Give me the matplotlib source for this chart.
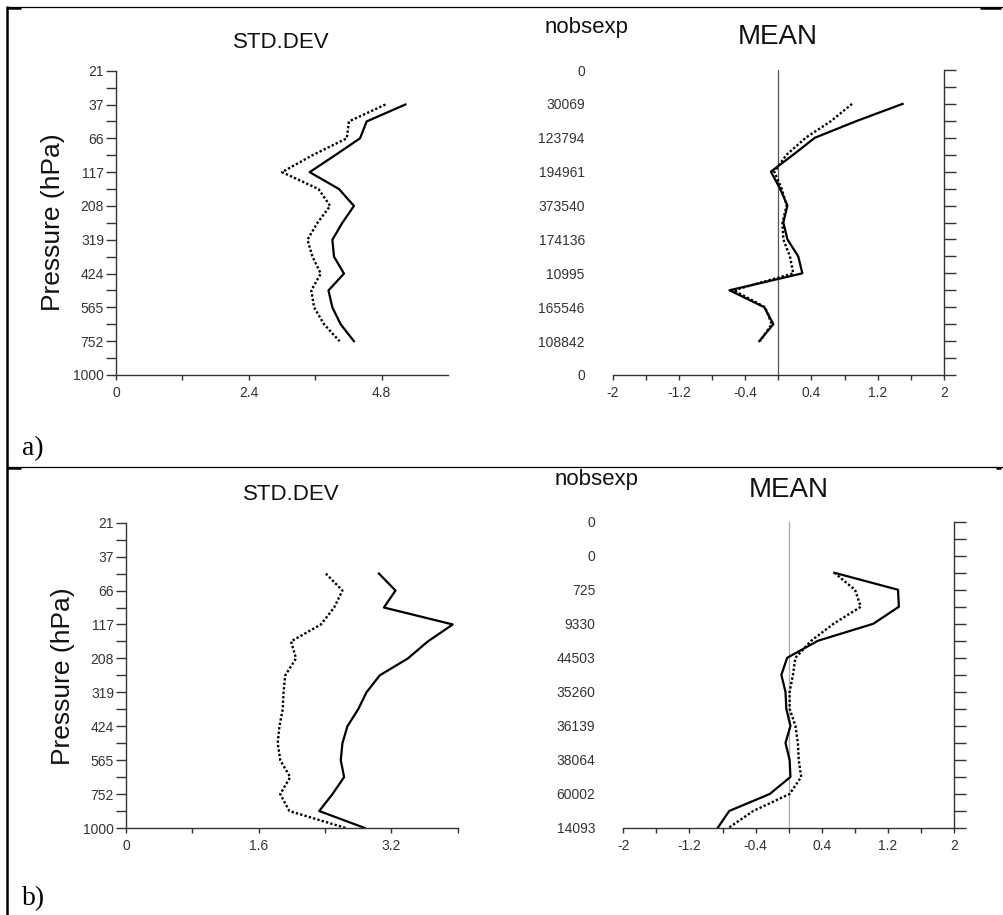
import numpy as np
import matplotlib.pyplot as plt
from matplotlib.lines import Line2D
from matplotlib.ticker import FixedLocator

plt.rcParams['font.family'] = ['Liberation Sans', 'DejaVu Sans']

### DATA
nan = np.nan

# labels of every other model level (index 0 = top, 18 = bottom)
pressure_labels = ["21", "37", "66", "117", "208", "319", "424", "565", "752", "1000"]
nobs_a = ["0", "30069", "123794", "194961", "373540", "174136", "10995", "165546", "108842", "0"]
nobs_b = ["0", "0", "725", "9330", "44503", "35260", "36139", "38064", "60002", "14093"]

# values on the 19 levels, nan where nothing is drawn
std_a_solid = [nan, nan, 5.23, 4.53, 4.41, 3.96, 3.50, 4.03, 4.30, 4.09, 3.91, 3.94, 4.12, 3.84, 3.91, 4.06, 4.30, nan, nan]
std_a_dot = [nan, nan, 4.87, 4.21, 4.17, 3.55, 3.00, 3.66, 3.87, 3.64, 3.46, 3.55, 3.70, 3.53, 3.58, 3.76, 4.04, nan, nan]
mean_a_solid = [nan, nan, 1.50, 0.95, 0.44, 0.18, -0.09, 0.02, 0.11, 0.06, 0.11, 0.24, 0.29, -0.59, -0.17, -0.06, -0.23, nan, nan]
mean_a_dot = [nan, nan, 0.89, 0.64, 0.33, 0.10, -0.05, 0.04, 0.10, 0.05, 0.06, 0.14, 0.18, -0.54, -0.16, -0.08, -0.22, nan, nan]

std_b_solid = [nan, nan, nan, 3.05, 3.25, 3.11, 3.94, 3.64, 3.40, 3.06, 2.90, 2.80, 2.67, 2.61, 2.59, 2.63, 2.49, 2.33, 2.88]
std_b_dot = [nan, nan, nan, 2.41, 2.61, 2.51, 2.35, 1.99, 2.05, 1.92, 1.90, 1.89, 1.85, 1.83, 1.86, 1.98, 1.86, 1.97, 2.65]
mean_b_solid = [nan, nan, nan, 0.55, 1.32, 1.33, 1.02, 0.35, -0.02, -0.09, -0.04, -0.03, 0.02, -0.04, 0.01, 0.02, -0.23, -0.72, -0.86]
mean_b_dot = [nan, nan, nan, 0.55, 0.80, 0.87, 0.54, 0.27, 0.08, 0.05, 0.01, 0.01, 0.08, 0.11, 0.12, 0.15, 0.01, -0.43, -0.73]

### LAYOUT
W, H = 1004, 915
fig = plt.figure(figsize=(W / 100, H / 100), dpi=100)
levels = np.arange(19)
AX_COL = '#333333'


def add_ax(x0, x1, y0, y1):
    # axes box from pixel coordinates (y measured from the top)
    return fig.add_axes([x0 / W, 1 - y1 / H, (x1 - x0) / W, (y1 - y0) / H])


def ftext(x, y, s, **kw):
    fig.text(x / W, 1 - y / H, s, **kw)


def fline(xs, ys, lw):
    fig.add_artist(Line2D([x / W for x in xs], [1 - y / H for y in ys],
                          transform=fig.transFigure, color='black', lw=lw,
                          solid_capstyle='butt'))


def draw_curves(ax, solid, dot):
    ax.plot(solid, levels, color='black', lw=1.6)
    ax.plot(dot, levels, color='black', lw=1.7, linestyle=(0, (1, 0.9)))


def std_panel(ax, solid, dot, xmax, major, minor):
    draw_curves(ax, solid, dot)
    ax.set_ylim(18, 0)
    ax.set_xlim(0, xmax)
    for s in ('top', 'right'):
        ax.spines[s].set_visible(False)
    for s in ('left', 'bottom'):
        ax.spines[s].set_color(AX_COL)
        ax.spines[s].set_linewidth(1.0)
    ax.set_yticks(levels[::2], pressure_labels)
    ax.yaxis.set_minor_locator(FixedLocator(levels[1::2]))
    ax.set_xticks(major, [f"{v:g}" for v in major])
    ax.xaxis.set_minor_locator(FixedLocator(minor))
    ax.tick_params(axis='y', which='both', length=7.2, width=1.0, color=AX_COL,
                   labelsize=10, labelcolor='#333333', pad=1.5)
    ax.tick_params(axis='x', which='both', length=3.8, width=1.0, color=AX_COL,
                   labelsize=10, labelcolor='#333333', pad=4)


def mean_panel(ax, solid, dot, nobs, zero_col):
    ax.axvline(0, color=zero_col, lw=0.9)
    draw_curves(ax, solid, dot)
    ax.set_ylim(18, 0)
    ax.set_xlim(-2, 2)
    for s in ('top', 'left'):
        ax.spines[s].set_visible(False)
    for s in ('right', 'bottom'):
        ax.spines[s].set_color(AX_COL)
        ax.spines[s].set_linewidth(1.0)
    ax.set_yticks(levels[::2], nobs)
    ax.yaxis.set_minor_locator(FixedLocator(levels[1::2]))
    major = [-2, -1.2, -0.4, 0.4, 1.2, 2]
    ax.set_xticks(major, [f"{v:g}" for v in major])
    ax.xaxis.set_minor_locator(FixedLocator([-1.6, -0.8, 0, 0.8, 1.6]))
    ax.tick_params(axis='y', which='both', left=False, right=True, length=8.6,
                   width=1.0, color=AX_COL, labelsize=10, labelcolor='#333333', pad=11.5)
    ax.tick_params(axis='x', which='both', length=3.8, width=1.0, color=AX_COL,
                   labelsize=10, labelcolor='#333333', pad=4)


# panel a)
ax1 = add_ax(116, 448, 70.7, 375)
std_panel(ax1, std_a_solid, std_a_dot, 6.0, [0, 2.4, 4.8], [1.2, 3.6])
ax2 = add_ax(612.7, 944, 70, 375)
mean_panel(ax2, mean_a_solid, mean_a_dot, nobs_a, '#555555')

# panel b)
ax3 = add_ax(126, 457.7, 522.7, 828)
std_panel(ax3, std_b_solid, std_b_dot, 4.0, [0, 1.6, 3.2], [0.8, 2.4, 4.0])
ax4 = add_ax(623.3, 954.3, 521.7, 828)
mean_panel(ax4, mean_b_solid, mean_b_dot, nobs_b, '#aaaaaa')

### TEXTS
for (xs, ys, xm, ym, xn, yn, xp, yp) in [(281, 42, 778, 37, 545, 28, 53, 222),
                                         (291.7, 494, 788.7, 490, 555, 480, 63, 676)]:
    ftext(xs, ys, "STD.DEV", fontsize=16, ha='center', va='center', color='#111111')
    ftext(xm, ym, "MEAN", fontsize=20, ha='center', va='center', color='#111111')
    ftext(xn, yn, "nobsexp", fontsize=16, ha='left', va='center', color='#111111')
    ftext(xp, yp, "Pressure (hPa)", fontsize=19, rotation=90, ha='center', va='center',
          color='#111111')

ftext(22, 449, "a)", fontsize=20, family='Liberation Serif', ha='left', va='center')
ftext(22, 899, "b)", fontsize=20, family='Liberation Serif', ha='left', va='center')

### BORDERS
fline([7, 1004], [7, 7], 0.9)
fline([7, 1004], [467, 467], 0.9)
fline([7, 7], [6, 915], 1.8)
fline([7, 21], [7.5, 7.5], 1.8)
fline([7, 21], [467.5, 467.5], 1.8)
fline([980, 1001], [7.5, 7.5], 1.8)
fline([996, 1001], [467.5, 467.5], 1.8)

fig.savefig("out.png", dpi=100)
